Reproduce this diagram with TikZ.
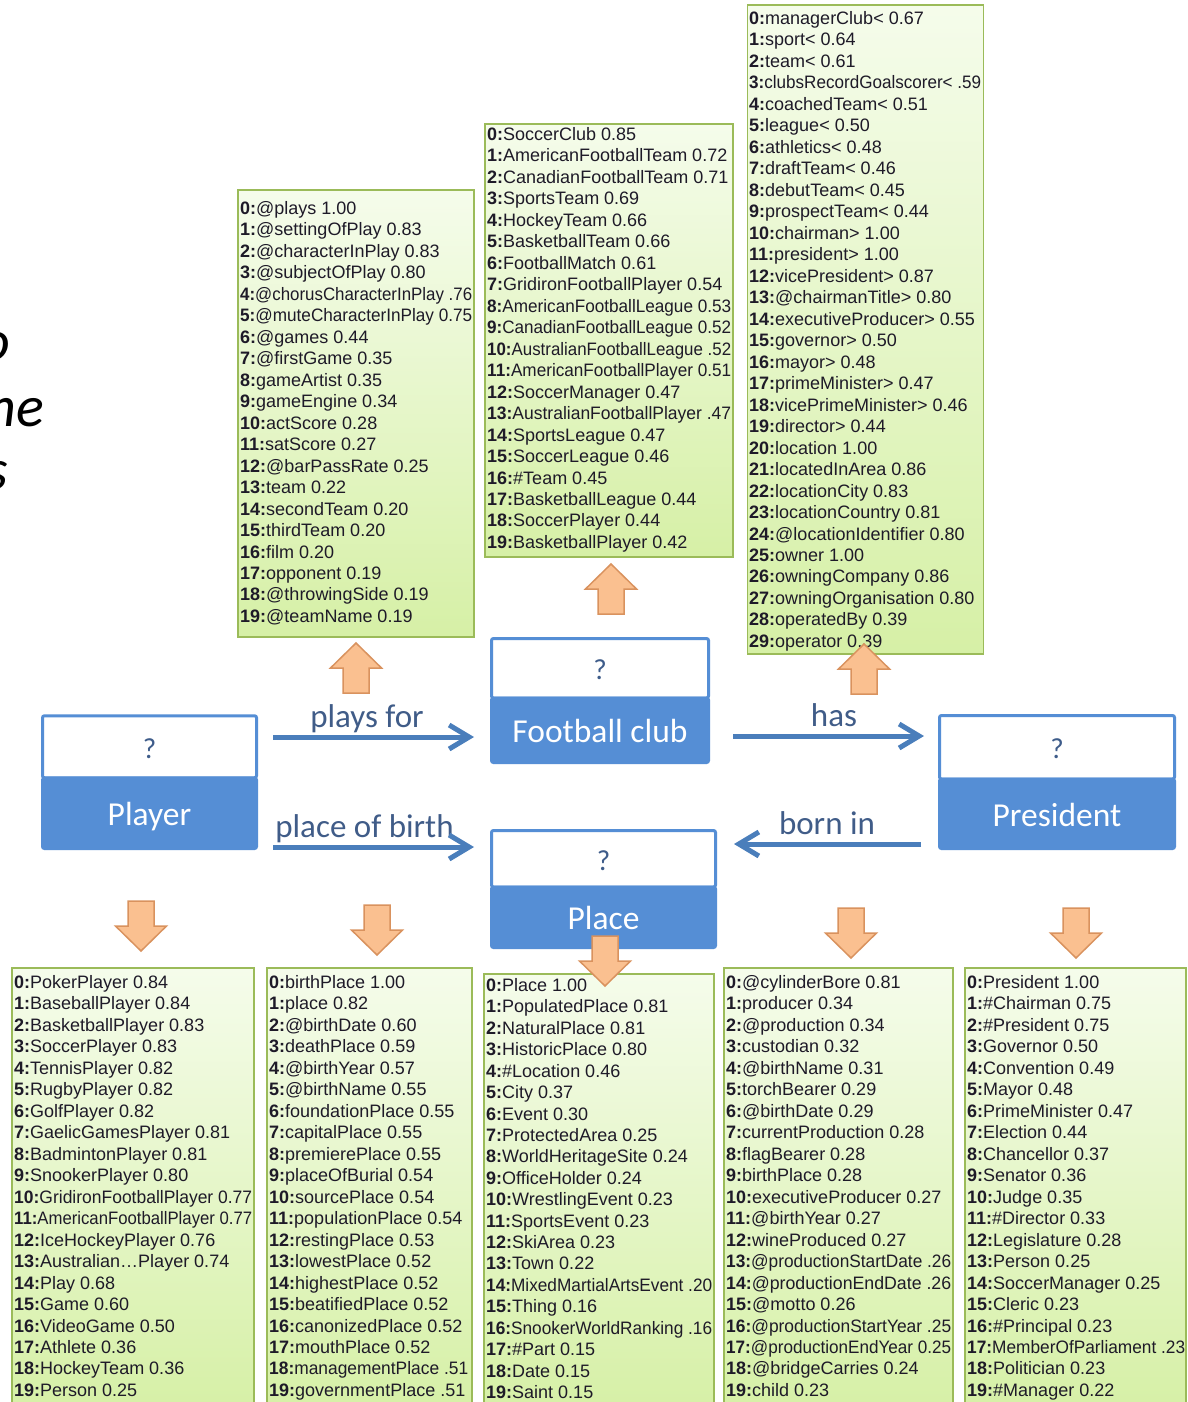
\documentclass[tikz,border=0pt]{standalone}
\usepackage{graphicx}
\usepackage{fontspec}
\setmainfont{Liberation Sans}
\newfontfamily\calfont{Carlito}
\usetikzlibrary{arrows.meta}
\definecolor{entc}{HTML}{558ED5}
\definecolor{relc}{HTML}{4A7EBB}
\definecolor{lblc}{HTML}{405C88}
\definecolor{qc}{HTML}{3E5C8A}
\definecolor{lstc}{HTML}{9BBB59}
\definecolor{lsttop}{HTML}{F5FCEB}
\definecolor{lstbot}{HTML}{D6F0A6}
\definecolor{blkc}{HTML}{FAC090}
\definecolor{blkd}{HTML}{D9925E}
\definecolor{txtc}{HTML}{1E1A28}
\newsavebox\rowbox
\newcommand\fitrow[2]{\sbox\rowbox{#2}\ifdim\wd\rowbox>#1\relax\resizebox{#1}{\height}{\usebox\rowbox}\else\usebox\rowbox\fi}
\tikzset{
  lst/.style={draw=lstc,line width=1.5pt,top color=lsttop,bottom color=lstbot,inner sep=0pt},
  row/.style={anchor=base west,inner sep=0pt,text=txtc,font=\fontsize{18}{20}\selectfont},
  qpart/.style={draw=entc,line width=3pt,fill=white,rounded corners=2pt,inner sep=0pt,text=qc,
    font=\calfont\fontsize{29}{30}\selectfont,text height=23pt,text depth=0pt},
  epart/.style={draw=entc,line width=3pt,fill=entc,rounded corners=2pt,inner sep=0pt,text=white,
    font=\calfont\fontsize{33.5}{35}\selectfont,text height=25pt,text depth=0pt},
  lbl/.style={anchor=base,inner sep=0pt,text=lblc,font=\calfont\fontsize{33}{34}\selectfont},
  rel/.style={-{Straight Barb[length=20pt,width=24pt]},line width=5pt,relc},
  blk/.style={fill=blkc,draw=blkd,line width=1.5pt,line join=miter},
  frag/.style={anchor=base east,inner sep=0pt,font=\calfont\itshape\fontsize{58}{60}\selectfont}
}
\begin{document}
\begin{tikzpicture}[x=1pt,y=-1pt]
\useasboundingbox (0,0) rectangle (1187,1402);
\clip (0,0) rectangle (1187,1402);
\fill[white] (0,0) rectangle (1187,1402);

% cut-off slide text
\node[frag] (fragO) at (10,360) {o};
\node[frag] (fragNe) at (44,426) {ne};
\node[frag] (fragS) at (8,489) {s};

% candidate lists, top row
\node[lst,minimum width=236pt,minimum height=447pt] (forprops) at (356,413.5) {};
\foreach \t [count=\i from 0] in {@plays 1.00,@settingOfPlay 0.83,@characterInPlay 0.83,@subjectOfPlay 0.80,
  @chorusCharacterInPlay .76,@muteCharacterInPlay 0.75,@games 0.44,@firstGame 0.35,gameArtist 0.35,
  gameEngine 0.34,actScore 0.28,satScore 0.27,@barPassRate 0.25,team 0.22,secondTeam 0.20,
  thirdTeam 0.20,film 0.20,opponent 0.19,@throwingSide 0.19,@teamName 0.19}
  \node[row] (fp\i) at (240,214.5+\i*21.47) {\fitrow{232pt}{\textbf{\i:}\t}};

\node[lst,minimum width=248pt,minimum height=433pt] (clubtypes) at (609,340.5) {};
\foreach \t [count=\i from 0] in {SoccerClub 0.85,AmericanFootballTeam 0.72,CanadianFootballTeam 0.71,
  SportsTeam 0.69,HockeyTeam 0.66,BasketballTeam 0.66,FootballMatch 0.61,GridironFootballPlayer 0.54,
  AmericanFootballLeague 0.53,CanadianFootballLeague 0.52,AustralianFootballLeague .52,
  AmericanFootballPlayer 0.51,SoccerManager 0.47,AustralianFootballPlayer .47,SportsLeague 0.47,
  SoccerLeague 0.46,\#Team 0.45,BasketballLeague 0.44,SoccerPlayer 0.44,BasketballPlayer 0.42}
  \node[row] (ct\i) at (487,140.5+\i*21.47) {\fitrow{244pt}{\textbf{\i:}\t}};

\node[lst,minimum width=236pt,minimum height=649pt] (hasprops) at (865.5,329.5) {};
\foreach \t [count=\i from 0] in {managerClub< 0.67,sport< 0.64,team< 0.61,clubsRecordGoalscorer< .59,
  coachedTeam< 0.51,league< 0.50,athletics< 0.48,draftTeam< 0.46,debutTeam< 0.45,prospectTeam< 0.44,
  chairman> 1.00,president> 1.00,vicePresident> 0.87,@chairmanTitle> 0.80,executiveProducer> 0.55,
  governor> 0.50,mayor> 0.48,primeMinister> 0.47,vicePrimeMinister> 0.46,director> 0.44,
  location 1.00,locatedInArea 0.86,locationCity 0.83,locationCountry 0.81,@locationIdentifier 0.80,
  owner 1.00,owningCompany 0.86,owningOrganisation 0.80,operatedBy 0.39,operator 0.39}
  \node[row] (hp\i) at (749,24.5+\i*21.48) {\fitrow{232pt}{\textbf{\i:}\t}};

% candidate lists, bottom row
\node[lst,minimum width=242pt,minimum height=444pt] (playertypes) at (133,1190) {};
\foreach \t [count=\i from 0] in {PokerPlayer 0.84,BaseballPlayer 0.84,BasketballPlayer 0.83,SoccerPlayer 0.83,
  TennisPlayer 0.82,RugbyPlayer 0.82,GolfPlayer 0.82,GaelicGamesPlayer 0.81,BadmintonPlayer 0.81,
  SnookerPlayer 0.80,GridironFootballPlayer 0.77,AmericanFootballPlayer 0.77,IceHockeyPlayer 0.76,
  Australian…Player 0.74,Play 0.68,Game 0.60,VideoGame 0.50,Athlete 0.36,HockeyTeam 0.36,Person 0.25}
  \node[row] (pt\i) at (14,988.5+\i*21.47) {\fitrow{238pt}{\textbf{\i:}\t}};

\node[lst,minimum width=205pt,minimum height=444pt] (birthprops) at (369.5,1190) {};
\foreach \t [count=\i from 0] in {birthPlace 1.00,place 0.82,@birthDate 0.60,deathPlace 0.59,@birthYear 0.57,
  @birthName 0.55,foundationPlace 0.55,capitalPlace 0.55,premierePlace 0.55,placeOfBurial 0.54,
  sourcePlace 0.54,populationPlace 0.54,restingPlace 0.53,lowestPlace 0.52,highestPlace 0.52,
  beatifiedPlace 0.52,canonizedPlace 0.52,mouthPlace 0.52,managementPlace .51,governmentPlace .51}
  \node[row] (bp\i) at (269,988.5+\i*21.47) {\fitrow{199pt}{\textbf{\i:}\t}};

\node[lst,minimum width=230pt,minimum height=438pt] (placetypes) at (599,1193) {};
\foreach \t [count=\i from 0] in {Place 1.00,PopulatedPlace 0.81,NaturalPlace 0.81,HistoricPlace 0.80,
  \#Location 0.46,City 0.37,Event 0.30,ProtectedArea 0.25,WorldHeritageSite 0.24,OfficeHolder 0.24,
  WrestlingEvent 0.23,SportsEvent 0.23,SkiArea 0.23,Town 0.22,MixedMartialArtsEvent  .20,Thing 0.16,
  SnookerWorldRanking .16,\#Part 0.15,Date 0.15,Saint 0.15}
  \node[row] (lt\i) at (486,991.5+\i*21.42) {\fitrow{226pt}{\textbf{\i:}\t}};

\node[lst,minimum width=229pt,minimum height=444pt] (bornprops) at (838.5,1190) {};
\foreach \t [count=\i from 0] in {@cylinderBore 0.81,producer 0.34,@production 0.34,custodian 0.32,
  @birthName 0.31,torchBearer 0.29,@birthDate 0.29,currentProduction 0.28,flagBearer 0.28,birthPlace 0.28,
  executiveProducer 0.27,@birthYear 0.27,wineProduced 0.27,@productionStartDate .26,
  @productionEndDate .26,@motto 0.26,@productionStartYear .25,@productionEndYear 0.25,
  @bridgeCarries 0.24,child 0.23}
  \node[row] (ip\i) at (726,988.5+\i*21.47) {\fitrow{225pt}{\textbf{\i:}\t}};

\node[lst,minimum width=221pt,minimum height=444pt] (prestypes) at (1075.5,1190) {};
\foreach \t [count=\i from 0] in {President 1.00,\#Chairman 0.75,\#President 0.75,Governor 0.50,
  Convention 0.49,Mayor 0.48,PrimeMinister 0.47,Election 0.44,Chancellor 0.37,Senator 0.36,Judge 0.35,
  \#Director 0.33,Legislature 0.28,Person 0.25,SoccerManager 0.25,Cleric 0.23,\#Principal 0.23,
  MemberOfParliament .23,Politician 0.23,\#Manager 0.22}
  \node[row] (st\i) at (967,988.5+\i*21.47) {\fitrow{218pt}{\textbf{\i:}\t}};

% entities
\node[qpart,minimum width=214pt,minimum height=62pt] (playerq) at (149.5,746.75) {?};
\node[epart,minimum width=214pt,minimum height=70.5pt] (playere) at (149.5,813.25) {Player};
\node[qpart,minimum width=217pt,minimum height=59.5pt] (clubq) at (600,668.25) {?};
\node[epart,minimum width=217pt,minimum height=64.5pt] (clubb) at (600,730.25) {Football club};
\node[qpart,minimum width=235pt,minimum height=63.5pt] (presq) at (1057,747.25) {?};
\node[epart,minimum width=235pt,minimum height=69.5pt] (prese) at (1057,813.75) {President};
\node[qpart,minimum width=224pt,minimum height=56.5pt] (placeq) at (603.5,858.75) {?};
\node[epart,minimum width=224pt,minimum height=60.5pt] (placee) at (603.5,917.25) {Place};

% relations
\node[lbl] (lplays) at (367,727) {plays for};
\node[lbl] (lbirth) at (364.5,837) {place of birth};
\node[lbl] (lhas) at (834,726) {has};
\node[lbl] (lborn) at (827,834) {born in};
\draw[rel] ([xshift=15pt,yshift=9.75pt]playerq.east) coordinate (a1) -- ([xshift=-16pt]clubb.west |- a1);
\draw[rel] ([xshift=15pt,yshift=-33.75pt]playere.east) coordinate (a2) -- ([xshift=-16pt]placeq.west |- a2);
\draw[rel] ([xshift=23pt,yshift=-5.75pt]clubb.east) coordinate (a3) -- ([xshift=-14pt]presq.west |- a3);
\draw[rel] ([xshift=-17pt,yshift=-30.25pt]prese.west) coordinate (a4) -- ([xshift=17pt]placeq.east |- a4);

% block arrows to the lists
\foreach \cx/\cy/\d in {356/668/-1,611/589/-1,864/669/-1,141/926/1,377/930/1,605/961/1,851/933/1,1076/933/1}
  \filldraw[blk] (\cx-13,\cy-25*\d) -- (\cx-13,\cy) -- (\cx-25.5,\cy) -- (\cx,\cy+25*\d)
    -- (\cx+25.5,\cy) -- (\cx+13,\cy) -- (\cx+13,\cy-25*\d) -- cycle;
\end{tikzpicture}
\end{document}
